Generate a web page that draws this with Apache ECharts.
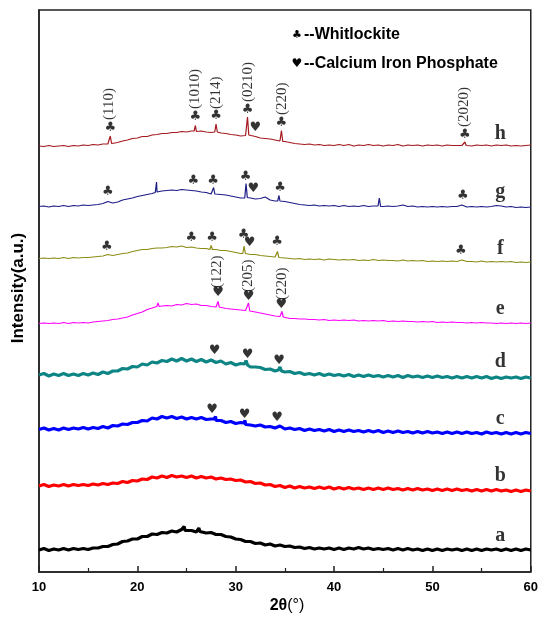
<!DOCTYPE html>
<html><head><meta charset="utf-8">
<script src="https://cdn.jsdelivr.net/npm/echarts@6/dist/echarts.min.js"></script>
<style>html,body{margin:0;padding:0;background:#fff}#c{width:541px;height:617px}</style>
</head><body><div id="c"></div>
<script>
// 2-theta sampling grid (degrees)
const angles = [10,10.5,11,11.5,12,12.5,13,13.5,14,14.5,15,15.5,16,16.5,17,17.5,18,18.5,19,19.5,
20,20.5,21,21.5,22,22.5,23,23.5,24,24.5,25,25.5,26,26.5,27,27.5,28,28.5,29,29.5,
30,30.5,31,31.5,32,32.5,33,33.5,34,34.5,35,35.5,36,36.5,37,37.5,38,38.5,39,39.5,
40,40.5,41,41.5,42,42.5,43,43.5,44,44.5,45,45.5,46,46.5,47,47.5,48,48.5,49,49.5,
50,50.5,51,51.5,52,52.5,53,53.5,54,54.5,55,55.5,56,56.5,57,57.5,58,58.5,59,59.5,60];

// intensities (a.u., stacked offsets included)
const traceH = [406,405.5,406.5,405.5,406,406.5,405.5,406.5,406,407,
406.5,407.5,407,408,408,409,409.5,411,412,413.5,
414,415.5,415.5,417,417.5,418.5,418.5,419.5,419.5,420.5,
420,421,420.5,421,420,419.5,420,419,418.5,417.5,
417,416,416.5,417,415.5,414,413.5,413,412,411,
410.5,409.5,408.5,408,407.5,408,407,407.5,406.5,407,
406.5,407.5,406.5,407.5,406,407,406.5,407.5,406.5,407,
406,407,406.5,407.5,406,407,406.5,407,406,407,
406.5,407,406,407,406.5,406.5,406.5,406,406,407,
406.5,407,406,407,406.5,407,406,406.5,406,406.5,407];
const peaksH = [[17.12,408.5],[17.25,416],[17.38,408.5],[25.77,421],[25.9,426.5],[26.03,421],
[27.87,420],[28.0,428],[28.13,420],[31.07,416.5],[31.2,435],[31.33,417],
[34.52,411],[34.65,421.5],[34.78,410.5],[53.17,406.5],[53.3,410],[53.43,406.5]];

const traceG = [345.5,346,345,346,345.5,346.5,345.5,346.5,346,347,
346.5,347,347.5,348.5,350.5,349,350,352,353,354,
355.5,356.5,357.5,358.5,360,361,361.5,362,361.5,362.5,
362,361.5,361,360,359.5,358,358,357.5,357,356,
355,354,354.5,354,353,353.5,355,352,351,351,
350.5,349.5,348.5,347.5,347,346.5,347,346,346.5,346,
346.5,345.5,346.5,345.5,346,345.5,346.5,345.5,346,346,
345.5,346,345.5,346,347,345.5,346,345,345.5,345,
345.5,345,345.5,345,345.5,345.5,347,345,345.5,345,
345.5,345,345.5,346.5,346,345,345.5,344.5,345,344.5,345];
const peaksG = [[21.82,359.5],[21.95,370],[22.08,360.5],[27.62,358.5],[27.75,364.5],[27.88,358],
[30.92,354],[31.05,368.5],[31.18,354.5],[34.27,351],[34.4,356.5],[34.53,350.5],
[44.47,346],[44.6,354],[44.73,345.5]];

const traceF = [293.5,294,293.5,294,293.5,294.5,293.5,294.5,294,294.5,
294.5,295,295.5,296,297.5,296.5,297.5,298.5,299,300.5,
301.5,302.5,302.5,303.5,304,304,304.5,305.5,305,306,
304.5,305,304,303.5,303.5,302.5,302.5,301.5,301.5,300.5,
299.5,298.5,298.5,297.5,297.5,296.5,296,295.5,295,294.5,
294,293.5,293,293.5,292.5,293,292.5,293,292,293,
292.5,292,292.5,292,292.5,291.5,292,291.5,292.5,291.5,
292,291.5,291.5,291,292,291,291.5,291,291.5,290.5,
291,290.5,291,290.5,291,290.5,292,290.5,290.5,290,
291,290,290.5,290,290.5,290,290.5,289.5,290,289.5,290];
const peaksF = [[27.37,302.5],[27.5,306.5],[27.63,302.5],[30.72,298.5],[30.85,306],[30.98,298.5],
[34.12,295],[34.25,300.5],[34.38,294.5]];

const traceE = [228.5,229,228.5,229,228.5,229.5,228.5,229.5,229,229.5,
229,230,230.5,231,231.5,232.5,233,234,235,237,
238.5,240,242.5,244,245,246,246.5,246,247.5,247,
248.5,247.5,248,246.5,246.5,245.5,245,244.5,243.5,243,
242.5,242,241.5,241,240,239,238,237,236,235.5,
234.5,233.5,233.5,233,233,232.5,232.5,232,232.5,231.5,
232,231.5,232,231.5,232,231,231.5,231,231.5,231,
231.5,230.5,231,230.5,231,230.5,230.5,230,230.5,230,
230.5,229.5,230,229.5,230,229.5,229.5,229,229.5,229,
229.5,229,229,228.5,229,228.5,229,228.5,229,228.5,229];
const peaksE = [[21.98,245.5],[22.1,249],[22.22,245.5],[28.07,245],[28.2,250.5],[28.33,245],
[31.17,241.5],[31.3,249],[31.43,241],[34.57,235.5],[34.7,240.5],[34.83,235]];

const traceD = [177,178.5,176,178,176.5,178.5,176.5,178,176.5,178.5,
177,179,177.5,180,178.5,181,181,183.5,183,185.5,
185,188,187,190,189,191.5,190.5,193,191,193.5,
191,193,190.5,192.5,190,192,189.5,191,188,189.5,
187,188.5,186.5,185,185,184.5,182.5,183,181,183,
180,180.5,178.5,179.5,177.5,178.5,177,178.5,176.5,178,
176.5,177.5,176,177.5,175.5,177,175.5,177,175.5,176.5,
175,176.5,175,176.5,174.5,176.5,175,176,174.5,176,
174.5,176,174.5,175.5,174,175.5,174,175.5,174,175.5,
174,175.5,173.5,175,173.5,175,174,175,173.5,175,174];
const peaksD = [[30.9,188],[31.05,191.5],[31.2,187],[34.35,182],[34.5,185],[34.65,181]];

const traceC = [122.5,124,122,123.5,122,124,122.5,124,123,124.5,
123,124.5,123.5,125.5,124,126.5,126,128,127.5,129.5,
129.5,131.5,131,134,133,135.5,134,135.5,133.5,135,
133,134.5,133,134.5,132.5,133,131.5,131.5,129.5,130.5,
128.5,129.5,127.5,127,126,127,125,125.5,124,126,
123,124,122.5,123.5,121.5,123,121.5,122.5,121,122.5,
120.5,122,120.5,122,120.5,121.5,120,121.5,120,121.5,
119.5,121,119.5,121,119.5,120.5,119,120.5,119,120.5,
119,120,118.5,120,118.5,120,118.5,120,118.5,119.5,
118,120,118.5,119.5,118,119.5,118,119.5,118,119.5,118.5];
const peaksC = [[27.8,133],[27.95,135.5],[28.1,132],[30.8,129],[30.95,131.5],[31.1,128]];

const traceB = [66,67.5,65.5,67,66,67.5,66,67.5,66.5,67.5,
66.5,68,67,68.5,67.5,69,68.5,70.5,69.5,71.5,
71,73,72.5,75,74,76,74.5,76.5,75,76,
74.5,76,74,75.5,74,75,73,74,72.5,73,
71.5,72,70,70.5,68.5,69,67,67.5,65.5,66.5,
64.5,66,64,65.5,64,65,63.5,65,63.5,65,
63,64.5,63,64.5,63,64,62.5,64,62.5,64,
62.5,64,62.5,63.5,62,63.5,62,63.5,62,63,
61.5,63,61.5,63,61.5,63,61.5,62.5,61,62.5,
61,62.5,61,62.5,61,62,60.5,62,60.5,62,61];
const peaksB = [];

const traceA = [2,3.5,1.5,3,2,3.5,2,3.5,2.5,3.5,
2.5,4,4,5.5,5.5,7.5,8,10.5,11,13,
13,15.5,15.5,18,17.5,19.5,19,21,20,22.5,
21,21.5,20,21,19,19.5,17.5,17.5,15.5,15,
13,12.5,10.5,10.5,8.5,9,7,8,6,7,
5.5,6,4.5,5,3.5,4.5,3,4,3,4,
2.5,4,2.5,4,3,4.5,3,4,2.5,3.5,
2.5,3.5,2,3.5,2,3.5,2,3,1.5,3,
1.5,3,1.5,3,2,3,1.5,3,1.5,3,
1.5,3,2,3,1.5,3,1.5,3,1.5,3,2];
const peaksA = [[24.65,21.5],[24.75,25.5],[24.85,21.5],[26.15,20.5],[26.25,24],[26.35,20.5]];

const sampleNames = ['a','b','c','d','e','f','g','h'];
const sampleColors = ['#000000','#FF0000','#0000FF','#0E8585','#FF00FF','#8C8C14','#1C1C86','#A3191E'];
const lineWidths = [3.2,3.2,3.2,3.2,1.2,1.2,1.2,1.2];
const traces = [traceA,traceB,traceC,traceD,traceE,traceF,traceG,traceH];
const peaks = [peaksA,peaksB,peaksC,peaksD,peaksE,peaksF,peaksG,peaksH];

// sample letter positions [2theta, intensity]
const sampleLabelPos = [[56.9,16],[56.9,76],[56.9,133],[56.9,190],[56.9,243],[56.9,303],[56.9,360],[56.9,418]];

// phase markers [2theta, intensity]
const clubMarks = [[17.24,424],[25.9,435],[28.0,436],[31.2,442],[34.65,429],[53.3,417],
[17.0,360],[25.7,371],[27.7,371],[31.0,375],[34.5,364],[53.1,356],
[16.9,305],[25.5,314],[27.6,314],[30.8,317],[34.2,310],[52.9,301]];
const heartMarks = [[32.0,424],[31.8,363],[31.4,309],[28.2,259],[31.3,255],[34.65,247],
[27.85,201],[31.2,197],[34.4,191],[27.6,142],[30.9,137],[34.2,134]];
// Miller indices [2theta, intensity, text]
const millerLabels = [[17.15,432,'(110)'],[25.9,443,'(1010)'],[28.0,443,'(214)'],[31.3,450,'(0210)'],
[34.7,437,'(220)'],[53.2,425,'(2020)'],[28.1,264,'(122)'],[31.3,260,'(205)'],[34.7,252,'(220)']];

const xTicks = {min:10, max:60, interval:10};

function merge(base, pk){
  const pts = angles.map((x,i)=>[x, base[i]]);
  pk.forEach(p=>pts.push(p));
  pts.sort((u,v)=>u[0]-v[0]);
  return pts;
}

const series = traces.map((t,i)=>({
  type:'line', name:sampleNames[i], data:merge(t,peaks[i]), showSymbol:false,
  lineStyle:{color:sampleColors[i], width:lineWidths[i]}, itemStyle:{color:sampleColors[i]},
  animation:false, silent:true, z:2
}));

series.push({
  type:'scatter', symbolSize:0, silent:true, animation:false, z:5,
  data: sampleLabelPos.map((p,i)=>({value:p, name:sampleNames[i]})),
  label:{show:true, position:'inside', formatter:'{b}', color:'#000',
    fontFamily:'Liberation Serif', fontWeight:'bold', fontSize:20}
});
series.push({
  type:'scatter', symbolSize:0, silent:true, animation:false, z:5,
  data: clubMarks,
  label:{show:true, position:'inside', formatter:'\u2663', color:'#000',
    fontFamily:'DejaVu Sans', fontSize:13}
});
series.push({
  type:'scatter', symbolSize:0, silent:true, animation:false, z:5,
  data: heartMarks,
  label:{show:true, position:'inside', formatter:'\u2665', color:'#000',
    fontFamily:'DejaVu Sans', fontSize:13}
});
series.push({
  type:'scatter', symbolSize:0, silent:true, animation:false, z:5,
  data: millerLabels.map(m=>({value:[m[0],m[1]], name:m[2]})),
  label:{show:true, position:'inside', formatter:'{b}', color:'#000', rotate:90,
    align:'left', verticalAlign:'middle',
    fontFamily:'Liberation Serif', fontSize:15}
});

const chart = echarts.init(document.getElementById('c'), null, {renderer:'canvas'});
chart.setOption({
  backgroundColor:'#fff',
  animation:false,
  grid:{left:39, right:7, top:10, bottom:45, show:true, borderColor:'#222', borderWidth:1.5, backgroundColor:'transparent'},
  xAxis:{type:'value', min:xTicks.min, max:xTicks.max, interval:xTicks.interval,
    axisLine:{show:true, onZero:false, lineStyle:{color:'#222', width:1.5}},
    axisTick:{show:true, inside:true, length:6, lineStyle:{color:'#222', width:1.5}},
    minorTick:{show:true, splitNumber:2, length:4, lineStyle:{color:'#222', width:1.2}},
    splitLine:{show:false},
    axisLabel:{color:'#000', fontFamily:'Liberation Sans', fontWeight:'bold', fontSize:13, margin:9}
  },
  yAxis:{type:'value', min:-20, max:542,
    axisLine:{show:true, lineStyle:{color:'#222', width:1.5}},
    axisTick:{show:false}, axisLabel:{show:false}, splitLine:{show:false}
  },
  graphic:[
    {type:'text', x:297, y:35, style:{text:'\u2663', font:'11px "DejaVu Sans"', fill:'#000', align:'center', verticalAlign:'middle'}},
    {type:'text', x:304, y:35, style:{text:'--Whitlockite', font:'bold 16px "Liberation Sans"', fill:'#000', align:'left', verticalAlign:'middle'}},
    {type:'text', x:297, y:64, style:{text:'\u2665', font:'12px "DejaVu Sans"', fill:'#000', align:'center', verticalAlign:'middle'}},
    {type:'text', x:304, y:64, style:{text:'--Calcium Iron Phosphate', font:'bold 16px "Liberation Sans"', fill:'#000', align:'left', verticalAlign:'middle'}},
    {type:'text', x:18, y:288, rotation:Math.PI/2, style:{text:'Intensity(a.u.)', font:'bold 17px "Liberation Sans"', fill:'#000', align:'center', verticalAlign:'middle'}},
    {type:'text', x:287, y:606, style:{text:'{b|2\u03b8}{n|(\u00b0)}', fill:'#000', align:'center', verticalAlign:'middle',
      rich:{b:{font:'bold 16px "Liberation Sans"'}, n:{font:'16px "Liberation Sans"'}}}}
  ],
  series:series
});
</script>
</body></html>
